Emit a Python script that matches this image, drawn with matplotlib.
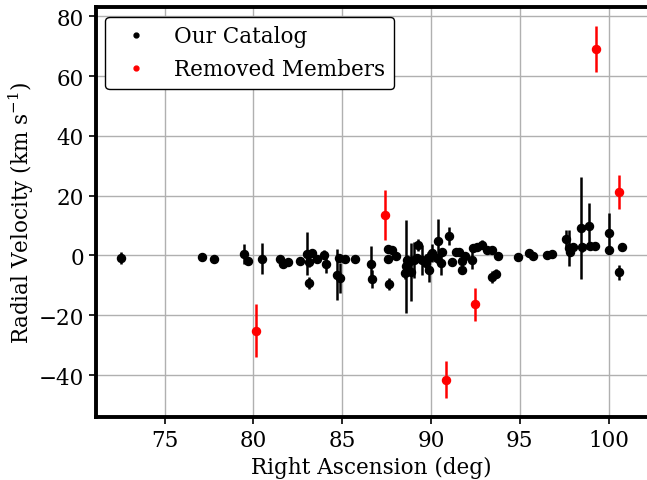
import matplotlib
matplotlib.use("Agg")
import matplotlib.pyplot as plt
from matplotlib.lines import Line2D

plt.rcParams["font.family"] = "DejaVu Serif"
plt.rcParams["mathtext.fontset"] = "dejavuserif"
plt.rcParams["font.size"] = 15.5

# catalog members: RA (deg), RV (km/s), RV error
ra = [72.53, 77.1, 77.75, 79.44, 79.72, 80.49, 81.5, 81.69, 81.97, 82.62,
      83.0, 83.15, 83.3, 83.1, 83.56, 83.99, 84.08, 84.68, 84.87, 84.83,
      85.17, 85.73, 86.63, 86.67, 87.64, 87.6, 87.55, 87.8, 88.0, 88.58,
      88.54, 88.62, 88.86, 88.8, 89.05, 89.29, 89.23, 89.5, 89.7, 89.84,
      89.88, 90.07, 90.4, 90.35, 90.54, 90.64, 91.0, 91.2, 91.39, 91.57,
      91.72, 91.72, 91.9, 92.36, 92.32, 92.6, 92.85, 93.16, 93.44, 93.78,
      93.44, 93.67, 94.9, 95.5, 95.75, 96.53, 96.8, 97.62, 97.75, 97.84,
      97.98, 98.44, 98.5, 98.88, 98.97, 99.25, 100.04, 100.04, 100.75, 100.6]
rv = [-0.9, -0.4, -1.2, 0.5, -2.0, -1.1, -1.1, -2.9, -2.1, -1.8,
      0.6, -2.2, 0.9, -9.2, -1.2, 0.2, -2.9, -6.4, -7.5, -0.9,
      -1.1, -1.2, -2.8, -7.8, -9.5, -1.1, 2.1, 1.7, -0.3, -3.6,
      -5.9, -1.4, -5.7, -1.8, -1.4, 3.6, -0.9, -1.4, -2.5, -0.9,
      -4.8, 0.8, 4.7, -0.9, -2.5, 1.0, 6.6, -2.3, 1.0, 1.0,
      -4.8, -2.0, -0.3, 2.5, -1.4, 2.8, 3.6, 1.7, 1.7, -0.1,
      -7.2, -6.1, -0.4, 0.8, -0.3, 0.2, 0.5, 5.5, 2.5, 1.3,
      2.8, 9.1, 2.8, 10.0, 3.0, 3.0, 7.5, 1.9, 2.7, -5.7]
rv_err = [1.9, 1.0, 0.8, 3.2, 1.0, 5.2, 1.0, 1.2, 1.0, 1.0,
          7.2, 1.5, 1.0, 2.0, 1.0, 1.5, 3.0, 8.5, 5.0, 1.0,
          1.0, 0.8, 5.8, 3.0, 2.0, 1.0, 1.0, 1.0, 1.0, 15.5,
          2.0, 1.5, 9.7, 1.0, 6.0, 2.0, 1.0, 5.0, 3.0, 2.0,
          4.0, 3.0, 7.5, 1.5, 4.0, 1.0, 3.0, 1.0, 1.0, 1.0,
          1.5, 3.0, 1.0, 1.0, 3.0, 1.0, 1.5, 1.0, 1.0, 1.0,
          2.0, 1.5, 1.0, 1.0, 1.0, 1.0, 1.0, 3.0, 6.0, 1.0,
          1.0, 17.0, 1.5, 7.5, 1.0, 1.0, 6.7, 1.0, 1.0, 2.5]

# members removed from the sample
ra_rm = [80.17, 87.42, 90.84, 92.5, 99.3, 100.56]
rv_rm = [-25.2, 13.6, -41.5, -16.4, 69.0, 21.3]
rv_rm_err = [8.8, 8.4, 6.3, 5.5, 7.8, 5.7]

fig = plt.figure(figsize=(6.47, 4.81), dpi=100)
ax = fig.add_axes([0.148, 0.131, 0.852, 0.852])

ax.errorbar(ra, rv, yerr=rv_err, fmt="o", color="k", ms=5.8,
            elinewidth=1.8, capsize=0, zorder=3)
ax.errorbar(ra_rm, rv_rm, yerr=rv_rm_err, fmt="o", color="red", ms=5.8,
            elinewidth=1.8, capsize=0, zorder=3)

ax.grid(True, color="#b0b0b0", lw=1.0)
ax.set_axisbelow(True)

for side in ["left", "bottom", "top"]:
    ax.spines[side].set_linewidth(2.8)
ax.spines["right"].set_visible(False)
ax.tick_params(direction="out", length=5, width=1.2, labelsize=15.5)

ax.set_xlabel("Right Ascension (deg)")
ax.set_ylabel("Radial Velocity (km s$^{-1}$)", labelpad=1.5)

handles = [Line2D([], [], marker="o", ls="none", color="k", ms=3.5),
           Line2D([], [], marker="o", ls="none", color="red", ms=3.5)]
leg = ax.legend(handles, ["Our Catalog", "Removed Members"], loc="upper left",
                framealpha=1, edgecolor="k", fontsize=15.5,
                borderaxespad=0.45)
leg.get_frame().set_linewidth(1.0)

fig.savefig("out.png", dpi=100)
